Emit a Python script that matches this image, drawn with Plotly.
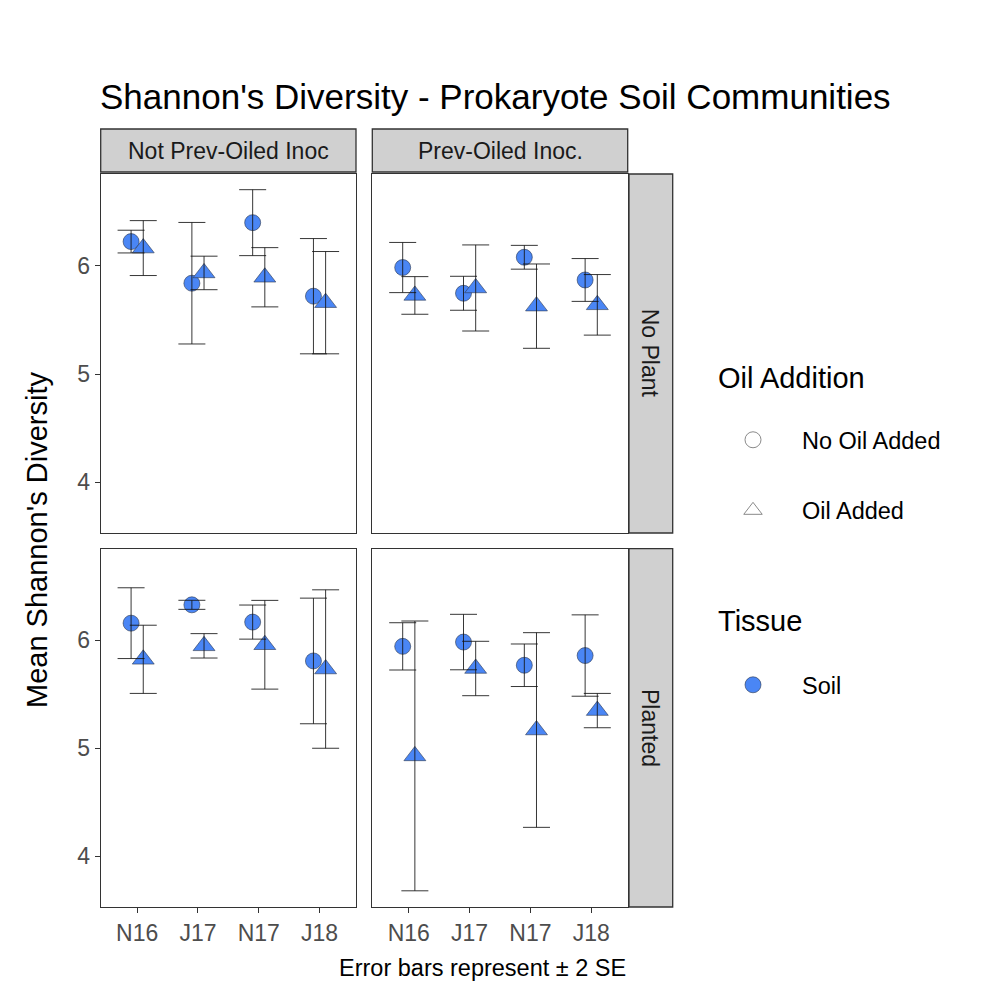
import plotly.graph_objects as go

# ---------------- data ----------------
dates = ["N16", "J17", "N17", "J18"]
inoc_labels = ["Not Prev-Oiled Inoc", "Prev-Oiled Inoc."]
plant_labels = ["No Plant", "Planted"]

# mean Shannon diversity and error half-width (2 SE)
np_notprev_nooil_mean = [6.225, 5.84, 6.40, 5.72]
np_notprev_nooil_err = [0.105, 0.562, 0.305, 0.533]
np_notprev_oil_mean = [6.165, 5.935, 5.895, 5.66]
np_notprev_oil_err = [0.254, 0.155, 0.274, 0.473]

np_prev_nooil_mean = [5.985, 5.747, 6.08, 5.87]
np_prev_nooil_err = [0.232, 0.157, 0.11, 0.198]
np_prev_oil_mean = [5.727, 5.796, 5.628, 5.64]
np_prev_oil_err = [0.174, 0.398, 0.39, 0.28]

pl_notprev_nooil_mean = [6.16, 6.33, 6.17, 5.81]
pl_notprev_nooil_err = [0.328, 0.042, 0.158, 0.582]
pl_notprev_oil_mean = [5.825, 5.95, 5.96, 5.735]
pl_notprev_oil_err = [0.316, 0.113, 0.411, 0.734]

pl_prev_nooil_mean = [5.945, 5.985, 5.77, 5.86]
pl_prev_nooil_err = [0.219, 0.257, 0.197, 0.377]
pl_prev_oil_mean = [4.93, 5.74, 5.17, 5.35]
pl_prev_oil_err = [1.25, 0.252, 0.902, 0.159]

oil_labels = ["No Oil Added", "Oil Added"]
tissue_labels = ["Soil"]

# ---------------- layout helpers ----------------
OFF = 8  # page body margin
W = H = 995
def fx(p):
    return (p - OFF) / W
def fy(p):
    return 1 - (p - OFF) / H

FONT = "Liberation Sans, Arial, Helvetica, sans-serif"
BLUE = "#4a86f5"
EDGE = "rgba(45,55,75,0.75)"
LINE = "#333333"

col_px = [(100.7, 356.0), (372.3, 627.7)]
row_px = [(174.0, 533.0), (548.7, 907.0)]
strip_top = (129.0, 172.0)
strip_right = (629.0, 672.7)

panels = [
    # (row, col, nooil_mean, nooil_err, oil_mean, oil_err)
    (0, 0, np_notprev_nooil_mean, np_notprev_nooil_err, np_notprev_oil_mean, np_notprev_oil_err),
    (0, 1, np_prev_nooil_mean, np_prev_nooil_err, np_prev_oil_mean, np_prev_oil_err),
    (1, 0, pl_notprev_nooil_mean, pl_notprev_nooil_err, pl_notprev_oil_mean, pl_notprev_oil_err),
    (1, 1, pl_prev_nooil_mean, pl_prev_nooil_err, pl_prev_oil_mean, pl_prev_oil_err),
]

fig = go.Figure()
dodge = 0.1
xpos = list(range(1, len(dates) + 1))

err_traces = []
for (r, c, m0, e0, m1, e1) in panels:
    k = r * 2 + c + 1
    xa = "x" if k == 1 else f"x{k}"
    ya = "y" if k == 1 else f"y{k}"
    x0 = [v - dodge for v in xpos]
    x1 = [v + dodge for v in xpos]
    fig.add_trace(go.Scatter(x=x0, y=m0, mode="markers", xaxis=xa, yaxis=ya,
                             marker=dict(symbol="circle", size=16, color=BLUE,
                                         line=dict(color=EDGE, width=0.8)),
                             showlegend=False, hoverinfo="skip"))
    fig.add_trace(go.Scatter(x=x1, y=m1, mode="markers", xaxis=xa, yaxis=ya,
                             marker=dict(symbol="triangle-up", size=19, color=BLUE,
                                         line=dict(color=EDGE, width=0.8)),
                             showlegend=False, hoverinfo="skip"))
    for xx, mm, ee in ((x0, m0, e0), (x1, m1, e1)):
        err_traces.append(go.Scatter(
            x=xx, y=mm, mode="markers", xaxis=xa, yaxis=ya,
            marker=dict(size=1, opacity=0),
            error_y=dict(type="data", array=ee, symmetric=True, color="rgba(20,20,20,0.85)",
                         thickness=1, width=13.5),
            showlegend=False, hoverinfo="skip"))
for t in err_traces:
    fig.add_trace(t)

# legend entries
fig.add_trace(go.Scatter(x=[None], y=[None], mode="markers", name=oil_labels[0],
                         legend="legend", legendgroup="a",
                         marker=dict(symbol="circle-open", size=16, color="#8a8a8a",
                                     line=dict(width=1))))
fig.add_trace(go.Scatter(x=[None], y=[None], mode="markers", name=oil_labels[1],
                         legend="legend", legendgroup="b",
                         marker=dict(symbol="triangle-up-open", size=19, color="#8a8a8a",
                                     line=dict(width=1))))
fig.add_trace(go.Scatter(x=[None], y=[None], mode="markers", name=tissue_labels[0],
                         legend="legend2", legendgroup="c",
                         marker=dict(symbol="circle", size=16, color=BLUE,
                                     line=dict(color=EDGE, width=0.8))))

axis_common = dict(showgrid=False, zeroline=False, showline=True, mirror=True,
                   linecolor=LINE, linewidth=1.3, tickcolor=LINE, tickwidth=1.3, ticklen=5,
                   tickfont=dict(family=FONT, size=23, color="#4d4d4d"))
layout_axes = {}
for r in range(2):
    for c in range(2):
        k = r * 2 + c + 1
        xname = "xaxis" if k == 1 else f"xaxis{k}"
        yname = "yaxis" if k == 1 else f"yaxis{k}"
        xd = [fx(col_px[c][0]), fx(col_px[c][1])]
        yd = [fy(row_px[r][1]), fy(row_px[r][0])]
        xa = dict(axis_common)
        xa.update(domain=xd, range=[0.4, 4.6], tickvals=xpos, ticktext=dates,
                  anchor="y" if k == 1 else f"y{k}")
        if r == 0:
            xa.update(showticklabels=False, ticks="")
        else:
            xa.update(ticks="outside")
        ya = dict(axis_common)
        ya.update(domain=yd, range=[3.53, 6.85], tickvals=[4, 5, 6],
                  anchor="x" if k == 1 else f"x{k}")
        if c == 1:
            ya.update(showticklabels=False, ticks="")
        else:
            ya.update(ticks="outside")
        layout_axes[xname] = xa
        layout_axes[yname] = ya

shapes = []
annotations = []
STRIP_FILL = "#d0d0d0"
for c in range(2):
    shapes.append(dict(type="rect", xref="paper", yref="paper",
                       x0=fx(col_px[c][0]), x1=fx(col_px[c][1]),
                       y0=fy(strip_top[1]), y1=fy(strip_top[0]),
                       fillcolor=STRIP_FILL, line=dict(color=LINE, width=1.3), layer="below"))
    annotations.append(dict(text=inoc_labels[c], xref="paper", yref="paper",
                            x=fx((col_px[c][0] + col_px[c][1]) / 2),
                            y=fy((strip_top[0] + strip_top[1]) / 2),
                            showarrow=False, xanchor="center", yanchor="middle",
                            font=dict(family=FONT, size=23, color="#1a1a1a")))
for r in range(2):
    shapes.append(dict(type="rect", xref="paper", yref="paper",
                       x0=fx(strip_right[0]), x1=fx(strip_right[1]),
                       y0=fy(row_px[r][1]), y1=fy(row_px[r][0]),
                       fillcolor=STRIP_FILL, line=dict(color=LINE, width=1.3), layer="below"))
    annotations.append(dict(text=plant_labels[r], xref="paper", yref="paper",
                            x=fx((strip_right[0] + strip_right[1]) / 2 - 1),
                            y=fy((row_px[r][0] + row_px[r][1]) / 2),
                            showarrow=False, xanchor="center", yanchor="middle", textangle=90,
                            font=dict(family=FONT, size=23, color="#1a1a1a")))

annotations += [
    dict(text="Shannon's Diversity - Prokaryote Soil Communities", xref="paper", yref="paper",
         x=fx(98), y=fy(96), xanchor="left", yanchor="middle", showarrow=False,
         font=dict(family=FONT, size=35, color="black")),
    dict(text="Mean Shannon's Diversity", xref="paper", yref="paper",
         x=fx(37), y=fy(540), xanchor="center", yanchor="middle", showarrow=False,
         textangle=-90, font=dict(family=FONT, size=29, color="black")),
    dict(text="Error bars represent \u00b1 2 SE", xref="paper", yref="paper",
         x=fx(628), y=fy(968), xanchor="right", yanchor="middle", showarrow=False,
         font=dict(family=FONT, size=23.5, color="black")),
    dict(text="Oil Addition", xref="paper", yref="paper",
         x=fx(716), y=fy(378), xanchor="left", yanchor="middle", showarrow=False,
         font=dict(family=FONT, size=29, color="black")),
    dict(text="Tissue", xref="paper", yref="paper",
         x=fx(716), y=fy(621), xanchor="left", yanchor="middle", showarrow=False,
         font=dict(family=FONT, size=29, color="black")),
]

fig.update_layout(
    width=W, height=H,
    margin=dict(l=0, r=0, t=0, b=0),
    paper_bgcolor="white", plot_bgcolor="white",
    font=dict(family=FONT),
    shapes=shapes, annotations=annotations,
    legend=dict(x=fx(704), y=fy(418), xanchor="left", yanchor="top",
                font=dict(family=FONT, size=23.5, color="black"),
                tracegroupgap=37, itemwidth=88, bgcolor="rgba(0,0,0,0)"),
    legend2=dict(x=fx(704), y=fy(663), xanchor="left", yanchor="top",
                 font=dict(family=FONT, size=23.5, color="black"),
                 itemwidth=88, bgcolor="rgba(0,0,0,0)"),
    **layout_axes,
)

fig.write_html("out.html")
